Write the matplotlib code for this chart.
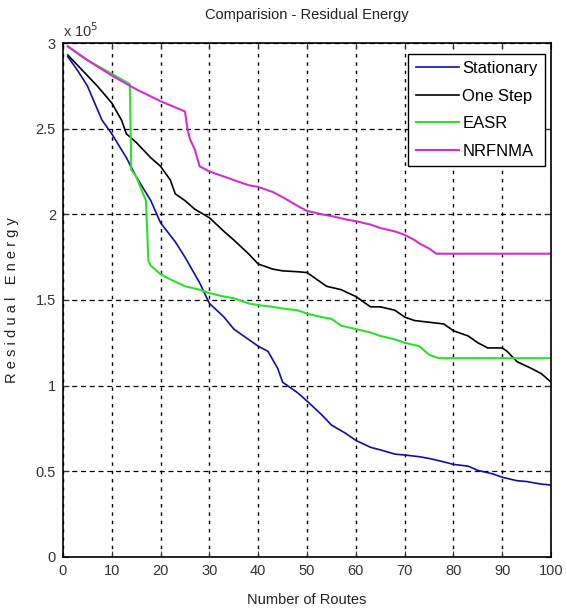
import matplotlib
matplotlib.use('Agg')
import matplotlib.pyplot as plt
from matplotlib.ticker import MultipleLocator

# values (y in units of 1e5)
x_stat = [1, 3, 5, 8, 10, 13, 15, 18, 20, 23, 25, 28, 30, 33, 35, 38, 40, 42, 44, 45,
          48, 50, 53, 55, 58, 60, 63, 65, 68, 70, 73, 75, 78, 80, 83, 85, 88, 90, 93, 95, 98, 100]
y_stat = [2.92, 2.84, 2.75, 2.55, 2.47, 2.33, 2.22, 2.08, 1.95, 1.84, 1.75, 1.6, 1.48, 1.4, 1.33, 1.27, 1.23, 1.2, 1.1, 1.02,
          0.96, 0.91, 0.83, 0.77, 0.72, 0.68, 0.64, 0.625, 0.6, 0.595, 0.585, 0.575, 0.555, 0.54, 0.53, 0.505, 0.485, 0.465, 0.445, 0.44, 0.425, 0.42]

x_one = [1, 4, 7, 10, 12, 13, 15, 18, 20, 22, 23, 25, 27, 30, 33, 35, 38, 40, 43, 45, 48, 50, 52, 54,
         57, 60, 61, 63, 65, 68, 70, 72, 75, 78, 80, 83, 85, 87, 90, 91, 93, 96, 98, 100]
y_one = [2.93, 2.84, 2.75, 2.65, 2.55, 2.47, 2.42, 2.33, 2.28, 2.2, 2.12, 2.08, 2.03, 1.98, 1.9, 1.85, 1.77, 1.71, 1.68, 1.67, 1.665, 1.66, 1.62, 1.58,
         1.56, 1.52, 1.5, 1.46, 1.46, 1.44, 1.4, 1.38, 1.37, 1.36, 1.32, 1.29, 1.25, 1.22, 1.22, 1.2, 1.14, 1.1, 1.07, 1.02]

x_easr = [1, 5, 10, 13.7, 14, 15, 16, 17, 17.5, 18, 20, 22, 25, 28, 30, 33, 35, 38, 40, 43, 45, 48, 50,
          53, 55, 57, 60, 63, 65, 68, 70, 73, 75, 77, 80, 85, 90, 95, 100]
y_easr = [2.98, 2.9, 2.82, 2.76, 2.26, 2.22, 2.15, 2.08, 1.73, 1.7, 1.65, 1.62, 1.58, 1.56, 1.54, 1.52, 1.51, 1.48, 1.47, 1.46, 1.45, 1.44, 1.42,
          1.4, 1.39, 1.35, 1.33, 1.31, 1.29, 1.27, 1.25, 1.23, 1.18, 1.16, 1.16, 1.16, 1.16, 1.16, 1.16]

x_nrf = [1, 5, 10, 15, 20, 25, 25.5, 26, 27, 28, 30, 33, 35, 38, 40, 43, 45, 48, 50, 53, 55, 58, 60,
         63, 65, 68, 70, 72, 73, 75, 76.5, 80, 85, 90, 95, 100]
y_nrf = [2.98, 2.9, 2.81, 2.73, 2.66, 2.6, 2.5, 2.44, 2.38, 2.28, 2.25, 2.22, 2.2, 2.17, 2.16, 2.13, 2.1, 2.05, 2.02, 2.0, 1.99, 1.97, 1.96,
         1.94, 1.92, 1.9, 1.88, 1.85, 1.83, 1.8, 1.77, 1.77, 1.77, 1.77, 1.77, 1.77]

labels = ['Stationary', 'One Step', 'EASR', 'NRFNMA']

plt.rcParams['font.family'] = ['Liberation Sans', 'DejaVu Sans']
plt.rcParams['font.size'] = 10

fig = plt.figure(figsize=(5.67, 6.10), dpi=100)
ax = fig.add_axes([0.111, 0.087, 0.861, 0.8425])

ax.plot(x_stat, [v * 1e5 for v in y_stat], color='#10109a', lw=1.2, label=labels[0])
ax.plot(x_one, [v * 1e5 for v in y_one], color='black', lw=1.2, label=labels[1])
ax.plot(x_easr, [v * 1e5 for v in y_easr], color='#2ee02e', lw=1.5, label=labels[2])
ax.plot(x_nrf, [v * 1e5 for v in y_nrf], color='#d030d0', lw=1.5, label=labels[3])

ax.set_xlim(0, 100)
ax.set_ylim(0, 3e5)
ax.xaxis.set_major_locator(MultipleLocator(10))
ax.set_yticks([0, 0.5e5, 1e5, 1.5e5, 2e5, 2.5e5, 3e5])
ax.set_yticklabels(['0', '0.5', '1', '1.5', '2', '2.5', '3'])
ax.tick_params(direction='in', length=4, colors='#333333', labelsize=10.5, top=True, right=True, pad=5)
ax.xaxis.grid(True, color='black', linestyle=(0, (2.5, 3.5)), linewidth=1.0)
ax.yaxis.grid(True, color='black', linestyle=(0, (4, 3)), linewidth=0.9)
ax.set_axisbelow(True)
for s in ax.spines.values():
    s.set_linewidth(1.2)

ax.text(0.0, 1.005, r'x 10$^5$', transform=ax.transAxes, fontsize=10.5, color='#333333',
        ha='left', va='bottom')
ax.set_title('Comparision - Residual Energy', fontsize=10.5, color='#222222', pad=17)
ax.set_xlabel('Number of Routes', fontsize=10.5, color='#222222', labelpad=11)
ax.set_ylabel('R e s i d u a l   E n e r g y', fontsize=10.5, color='#222222', labelpad=12)

leg = ax.legend(loc='upper right', bbox_to_anchor=(0.988, 0.979), fancybox=False, framealpha=1,
                edgecolor='black', fontsize=12, handlelength=2.6, handletextpad=0.2,
                borderpad=0.45, labelspacing=0.75, borderaxespad=0)
leg.get_frame().set_linewidth(1.0)

fig.savefig('out.png', dpi=100)
